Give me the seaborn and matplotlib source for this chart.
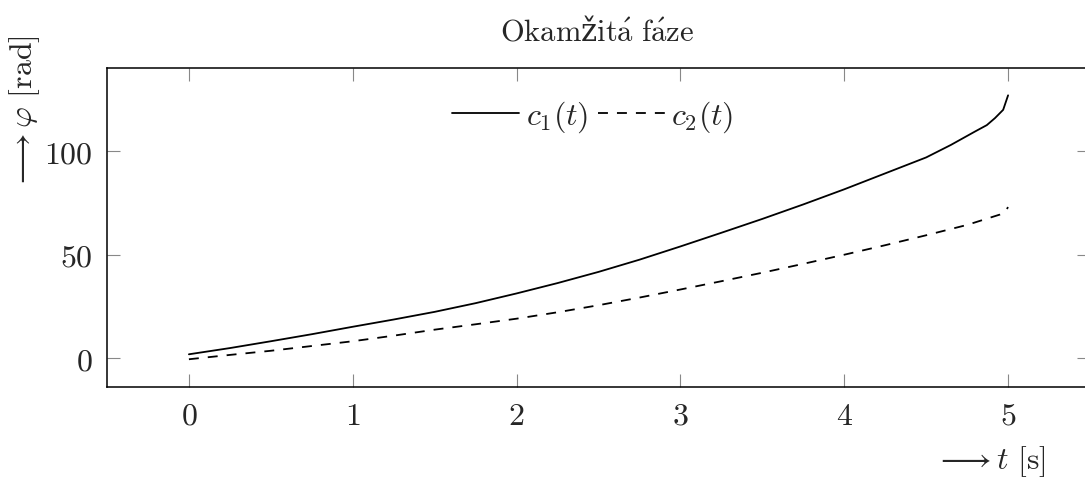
import matplotlib
matplotlib.use("Agg")
import matplotlib.pyplot as plt
import seaborn as sns
import pandas as pd
from matplotlib.lines import Line2D

# ---- data ----
t_c1 = [0.0, 0.25, 0.5, 0.75, 1.0, 1.25, 1.5, 1.75, 2.0, 2.25, 2.5, 2.75, 3.0, 3.25, 3.5,
        3.75, 4.0, 4.25, 4.5, 4.65, 4.8, 4.87, 4.92, 4.97, 5.0]
phi_c1 = [1.9, 4.9, 8.2, 11.6, 15.2, 18.7, 22.4, 26.6, 31.3, 36.3, 41.7, 47.6, 54.0, 60.6, 67.3,
          74.3, 81.6, 89.3, 97.0, 103.0, 109.6, 112.6, 116.0, 120.0, 127.0]
t_c2 = [0.0, 0.25, 0.5, 0.75, 1.0, 1.25, 1.5, 1.75, 2.0, 2.25, 2.5, 2.75, 3.0, 3.25, 3.5,
        3.75, 4.0, 4.25, 4.5, 4.75, 4.95, 4.98, 5.0]
phi_c2 = [-0.5, 1.6, 3.6, 5.9, 8.2, 10.9, 13.8, 16.4, 19.1, 22.2, 25.6, 29.3, 33.2, 37.2, 41.3,
          45.6, 50.0, 54.6, 59.4, 64.4, 69.4, 70.6, 73.0]
series_names = ["c1", "c2"]
legend_labels = [r"$c_1(t)$", r"$c_2(t)$"]
xticks = [0, 1, 2, 3, 4, 5]
xtick_labels = [r"$0$", r"$1$", r"$2$", r"$3$", r"$4$", r"$5$"]
yticks = [0, 50, 100]
ytick_labels = [r"$0$", r"$50$", r"$100$"]
title = "$\\mathrm{Okam}$ž$\\mathrm{it\\acute{a}\\ f\\acute{a}ze}$"
xlabel = r"$\longrightarrow t\ [\mathrm{s}]$"
ylabel = r"$\longrightarrow \varphi\ [\mathrm{rad}]$"

df = pd.concat([
    pd.DataFrame({"t": t_c1, "phi": phi_c1, "series": series_names[0]}),
    pd.DataFrame({"t": t_c2, "phi": phi_c2, "series": series_names[1]}),
])

sns.set_style("white")
plt.rcParams["mathtext.fontset"] = "cm"
plt.rcParams["font.family"] = ["DejaVu Serif"]

W, H = 1085, 479
fig = plt.figure(figsize=(W / 100, H / 100), dpi=100)
ax = fig.add_axes([107 / W, 1 - 387 / H, (1090 - 107) / W, (387 - 68) / H])

dash_map = {"c1": "", "c2": (5.5, 5)}
sns.lineplot(data=df, x="t", y="phi", style="series", dashes=dash_map,
             color="black", linewidth=1.3, ax=ax, legend=False, sort=False,
             estimator=None)

ax.set_xlim(-0.5, 5.5)
ax.set_ylim(-13.9, 140.2)
ax.set_xticks(xticks)
ax.set_xticklabels(xtick_labels)
ax.set_yticks(yticks)
ax.set_yticklabels(ytick_labels)
ax.tick_params(axis="both", direction="in", length=9.5, width=0.8, color="#888888",
               top=True, right=True, bottom=True, left=True, labelsize=23)
ax.tick_params(axis="x", pad=10)
ax.tick_params(axis="y", pad=10)
for s in ax.spines.values():
    s.set_linewidth(1.1)
    s.set_color("black")
ax.set_xlabel("")
ax.set_ylabel("")

handles = [Line2D([], [], color="black", lw=1.3),
           Line2D([], [], color="black", lw=1.3, dashes=(5.5, 5))]
fig.legend(handles, legend_labels, loc="center", bbox_to_anchor=(593 / W, 1 - 117 / H),
           ncol=2, frameon=False, fontsize=23, handlelength=2.1, handletextpad=0.2,
           columnspacing=0.3, borderpad=0)

fig.text(597 / W, 1 - 32 / H, title, ha="center", va="center", fontsize=22)
fig.text(990 / W, 1 - 462 / H, xlabel, ha="center", va="center", fontsize=23)
fig.text(25 / W, 1 - 112 / H, ylabel, ha="center", va="center", fontsize=23, rotation=90)

fig.savefig("out.png", dpi=100)
